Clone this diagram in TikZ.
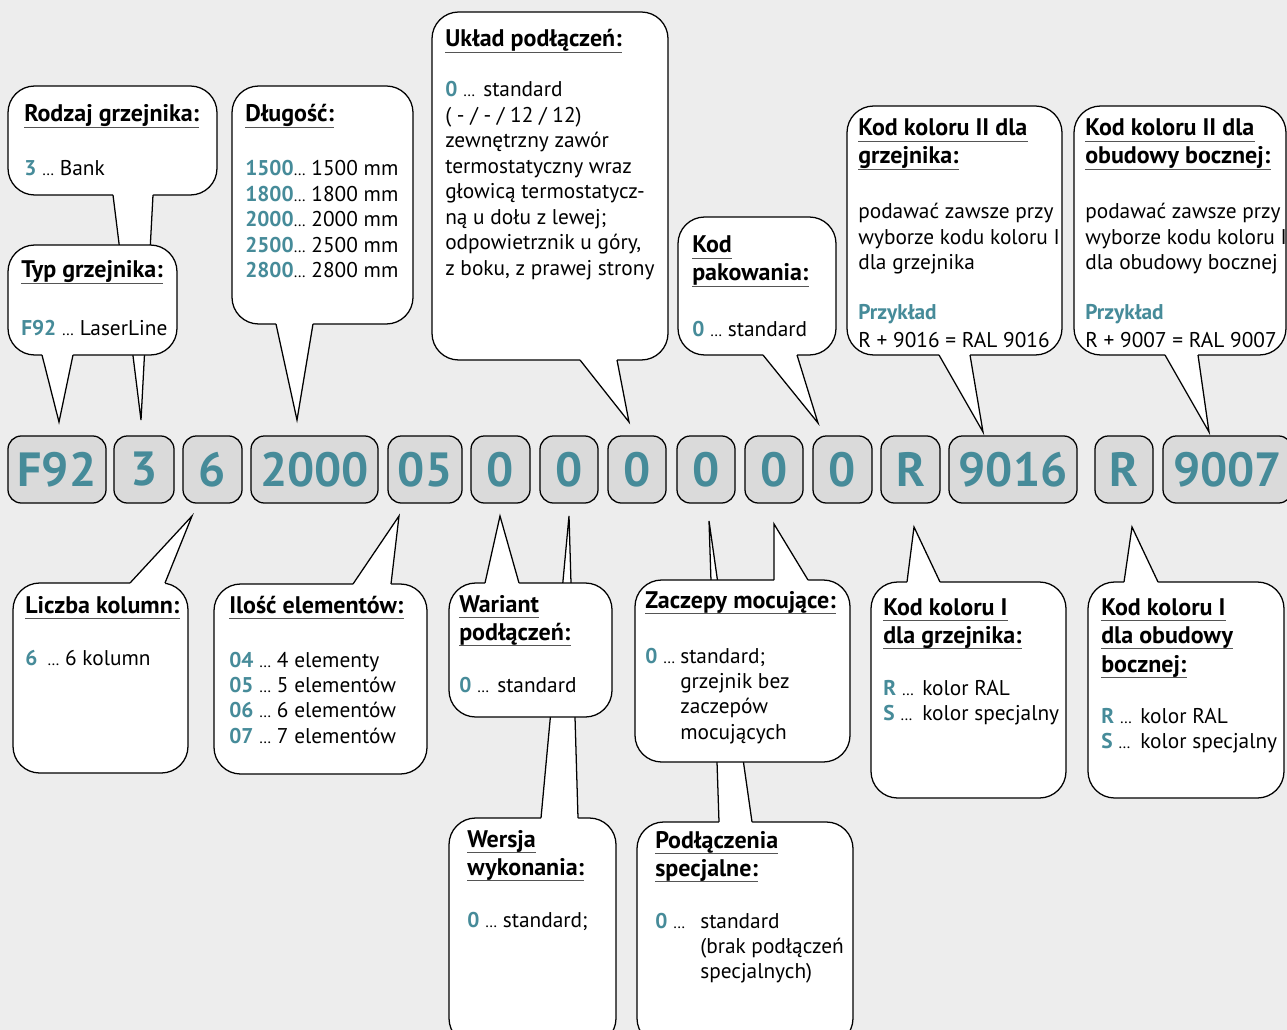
\documentclass[tikz,border=0pt]{standalone}
\usepackage{fontspec}
\setmainfont{PT Sans}
\usetikzlibrary{fit}
\definecolor{tealc}{HTML}{468B99}
\definecolor{bgc}{HTML}{EDEDED}
\definecolor{boxc}{HTML}{DADADA}
\definecolor{ulc}{HTML}{555555}
\newcommand\fsz{\fontsize{16}{19.1}\selectfont}
\newcommand\tsz{\fontsize{18}{19.1}\selectfont}
\newcommand\el{{\fontsize{12}{12}\selectfont …}}
\newcommand\tc[1]{{\bfseries\color{tealc}#1}}
\newcommand\rowx[1]{\hbox{#1}}
\newcommand\blk[1]{\vtop{\baselineskip=19.1pt\lineskiplimit=-50pt\lineskip=0pt #1}}
\newcommand\callout[5]{\node[callout, fit={(#2,#3) (#4,#5)}] (#1) {};}
\newcommand\tail[6]{%
  \fill[white] (#1,#3) -- (#5,#6) -- (#2,#3) -- (#2,{#3+#4}) -- (#1,{#3+#4}) -- cycle;
  \draw[cl] (#1,#3) -- (#5,#6) -- (#2,#3);}
\newcommand\ttlnode[4]{\node[ttl] (#1) at (#2,#3) {#4};
  \draw[ul] ([yshift=-4.3pt]#1.base west) -- ([yshift=-4.3pt]#1.base east);}
\newcommand\cbox[4]{\node[cbx, minimum width={(#2-#1)*0.75pt}] (#4) at ({(#1+#2)/2},469.5) {#3};}
\begin{document}
\begin{tikzpicture}[x=0.75pt,y=-0.75pt,
  cl/.style={line width=0.95pt, line join=miter},
  callout/.style={draw, fill=white, line width=0.95pt, rounded corners=20pt, inner sep=0pt},
  cbx/.style={draw, fill=boxc, line width=0.95pt, rounded corners=10pt, minimum height=50.25pt, inner sep=0pt,
    font=\fontsize{36}{36}\selectfont\bfseries, text=tealc},
  txt/.style={anchor=base west, inner sep=0pt, font=\fsz},
  ttl/.style={anchor=base west, inner sep=0pt, font=\tsz\bfseries},
  ul/.style={ulc, line width=1.1pt}]
\fill[bgc] (0,0) rectangle (1287,1030);
\useasboundingbox (0,0) rectangle (1287,1030);

% callouts drawn first (their tails pass behind others)
\callout{A}{8}{86}{217}{195}
\tail{113}{153}{195}{-3}{141}{420}
\callout{K}{449}{818}{616}{1045}
\tail{541}{578}{818}{3}{569}{516}
\callout{M}{637}{822}{853}{1045}
\tail{719}{752}{822}{3}{709}{521}

\callout{B}{8}{245}{177}{355}
\tail{42}{73}{355}{-3}{59}{422}
\callout{C}{232}{86}{413}{324}
\tail{276}{313}{324}{-3}{297}{420}
\callout{D}{432}{12}{668}{360}
\tail{580}{617}{360}{-3}{629}{422}
\callout{E}{678}{217}{836}{355}
\tail{763}{797}{355}{-3}{818}{423}
\callout{F}{847}{106}{1062}{355}
\tail{939}{970}{355}{-3}{983}{432}
\callout{G}{1074}{106}{1286}{355}
\tail{1165}{1198}{355}{-3}{1209}{432}
\callout{H}{13}{583}{188}{773}
\tail{130}{165}{583}{3}{192}{516}
\callout{I}{214}{584}{427}{774}
\tail{353}{391}{584}{3}{399}{516}
\callout{J}{449}{583}{612}{717}
\tail{485}{519}{583}{3}{500}{516}
\callout{L}{635}{580}{850}{762}
\tail{774}{808}{580}{3}{774}{524}
\callout{N}{871}{582}{1066}{798}
\tail{907}{940}{582}{3}{914}{527}
\callout{O}{1088}{582}{1284}{798}
\tail{1124}{1158}{582}{3}{1132}{527}

% code boxes
\cbox{8}{106}{F92}{c1}
\cbox{114}{174}{3}{c2}
\cbox{183}{242}{6}{c3}
\cbox{251}{378}{2000}{c4}
\cbox{388}{462}{05}{c5}
\cbox{471}{530}{0}{c6}
\cbox{540}{598}{0}{c7}
\cbox{608}{666}{0}{c8}
\cbox{677}{735}{0}{c9}
\cbox{745}{803}{0}{c10}
\cbox{813}{872}{0}{c11}
\cbox{881}{940}{R}{c12}
\cbox{949}{1077}{9016}{c13}
\cbox{1095}{1153}{R}{c14}
\cbox{1163}{1292}{9007}{c15}

% titles
\ttlnode{At}{24}{122}{Rodzaj grzejnika:}
\ttlnode{Bt}{21}{278}{Typ grzejnika:}
\ttlnode{Ct}{245}{122}{Długość:}
\ttlnode{Dt}{445}{47}{Układ podłączeń:}
\ttlnode{Et1}{692}{253}{Kod\ }
\ttlnode{Et2}{692}{281}{pakowania:}
\ttlnode{Ft1}{858}{136}{Kod koloru II dla}
\ttlnode{Ft2}{858}{164}{grzejnika:}
\ttlnode{Gt1}{1085}{136}{Kod koloru II dla}
\ttlnode{Gt2}{1085}{164}{obudowy bocznej:}
\ttlnode{Ht}{25}{613}{Liczba kolumn:}
\ttlnode{It}{229}{613}{Ilość elementów:}
\ttlnode{Jt1}{459}{612}{Wariant\ }
\ttlnode{Jt2}{459}{640}{podłączeń:}
\ttlnode{Kt1}{467}{847}{Wersja\ }
\ttlnode{Kt2}{467}{875}{wykonania:}
\ttlnode{Lt}{645}{608}{Zaczepy mocujące:}
\ttlnode{Mt1}{655}{848}{Podłączenia}
\ttlnode{Mt2}{655}{876}{specjalne:}
\ttlnode{Nt1}{883}{615}{Kod koloru I\ }
\ttlnode{Nt2}{883}{643}{dla grzejnika:}
\ttlnode{Ot1}{1101}{615}{Kod koloru I\ }
\ttlnode{Ot2}{1101}{643}{dla obudowy}
\ttlnode{Ot3}{1101}{672}{bocznej:}

% bodies
\node[txt] (Ab) at (24,176) {\tc{3} \el{} Bank};
\node[txt] (Bb) at (21,335) {\tc{F92} \el{} LaserLine};
\node[txt] (Cb) at (245,176) {\blk{\rowx{\tc{1500}\el{} 1500 mm}\rowx{\tc{1800}\el{} 1800 mm}\rowx{\tc{2000}\el{} 2000 mm}\rowx{\tc{2500}\el{} 2500 mm}\rowx{\tc{2800}\el{} 2800 mm}}};
\node[txt] (Db) at (445,97) {\blk{\rowx{\makebox[28.5pt][l]{\tc{0} \el}standard}\rowx{( - / - / 12 / 12)}\rowx{zewnętrzny zawór}\rowx{termostatyczny wraz}\rowx{głowicą termostatycz-}\rowx{ną u dołu z lewej;}\rowx{odpowietrznik u góry,}\rowx{z boku, z prawej strony}}};
\node[txt] (Eb) at (692,336) {\tc{0} \el{} standard};
\node[txt] (Fb) at (858,219) {\blk{\rowx{podawać zawsze przy}\rowx{wyborze kodu koloru I}\rowx{dla grzejnika}}};
\node[txt] (Fp) at (858,320) {\tc{Przykład}};
\node[txt] (Fe) at (858,347) {R + 9016 = RAL 9016};
\node[txt] (Gb) at (1085,219) {\blk{\rowx{podawać zawsze przy}\rowx{wyborze kodu koloru I}\rowx{dla obudowy bocznej}}};
\node[txt] (Gp) at (1085,320) {\tc{Przykład}};
\node[txt] (Ge) at (1085,347) {R + 9007 = RAL 9007};
\node[txt] (Hb) at (25,665) {\makebox[16.5pt][l]{\tc{6}}\el{} 6 kolumn};
\node[txt] (Ib) at (229,667) {\blk{\rowx{\tc{04} \el{} 4 elementy}\rowx{\tc{05} \el{} 5 elementów}\rowx{\tc{06} \el{} 6 elementów}\rowx{\tc{07} \el{} 7 elementów}}};
\node[txt] (Jb) at (459,692) {\makebox[28.5pt][l]{\tc{0} \el}standard};
\node[txt] (Kb) at (467,927) {\tc{0} \el{} standard;};
\node[txt] (Lb) at (645,663) {\blk{\rowx{\makebox[26.25pt][l]{\tc{0} \el}standard;}\rowx{\makebox[26.25pt][l]{}grzejnik bez}\rowx{\makebox[26.25pt][l]{}zaczepów}\rowx{\makebox[26.25pt][l]{}mocujących}}};
\node[txt] (Mb) at (655,928) {\blk{\rowx{\makebox[33.75pt][l]{\tc{0} \el}standard}\rowx{\makebox[33.75pt][l]{}(brak podłączeń}\rowx{\makebox[33.75pt][l]{}specjalnych)}}};
\node[txt] (Nb) at (883,695) {\blk{\rowx{\makebox[29.25pt][l]{\tc{R} \el}kolor RAL}\rowx{\makebox[29.25pt][l]{\tc{S} \el}kolor specjalny}}};
\node[txt] (Ob) at (1101,723) {\blk{\rowx{\makebox[29.25pt][l]{\tc{R} \el}kolor RAL}\rowx{\makebox[29.25pt][l]{\tc{S} \el}kolor specjalny}}};
\end{tikzpicture}
\end{document}
